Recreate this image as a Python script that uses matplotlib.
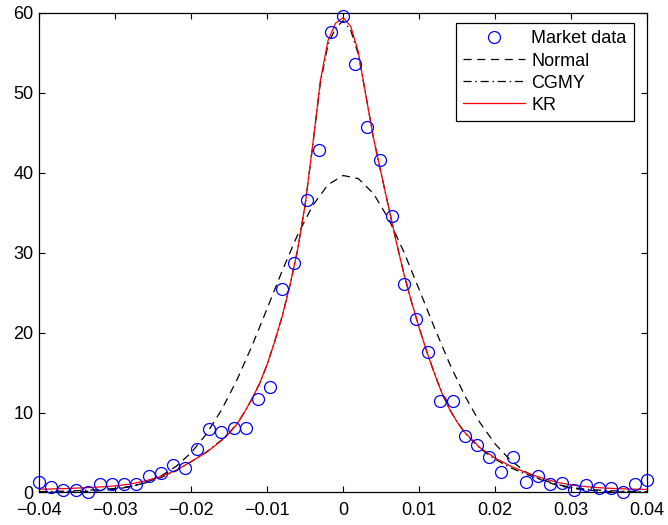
import matplotlib
matplotlib.use("Agg")
import matplotlib.pyplot as plt
from matplotlib.ticker import FixedLocator, FuncFormatter

plt.rcParams['font.family'] = ['Liberation Sans', 'DejaVu Sans']
plt.rcParams['axes.unicode_minus'] = True

# market data (histogram density)
x_market = [-0.0400, -0.0384, -0.0368, -0.0352, -0.0336, -0.0320, -0.0304, -0.0288,
            -0.0272, -0.0256, -0.0240, -0.0224, -0.0208, -0.0192, -0.0176, -0.0160,
            -0.0144, -0.0128, -0.0112, -0.0096, -0.0080, -0.0064, -0.0048, -0.0032,
            -0.0016, 0.0000, 0.0016, 0.0032, 0.0048, 0.0064, 0.0080, 0.0096,
            0.0112, 0.0128, 0.0144, 0.0160, 0.0176, 0.0192, 0.0208, 0.0224,
            0.0240, 0.0256, 0.0272, 0.0288, 0.0304, 0.0320, 0.0336, 0.0352,
            0.0368, 0.0384, 0.0400]
y_market = [1.25, 0.63, 0.33, 0.33, 0.0, 1.04, 1.04, 1.04,
            1.04, 2.08, 2.45, 3.42, 3.0, 5.42, 7.88, 7.58,
            8.08, 8.08, 11.71, 13.21, 25.4, 28.73, 36.57, 42.83,
            57.63, 59.6, 53.55, 45.74, 41.57, 34.57, 26.06, 21.68,
            17.59, 11.46, 11.46, 7.04, 5.92, 4.46, 2.5, 4.46,
            1.25, 2.04, 1.0, 1.13, 0.29, 0.91, 0.5, 0.58,
            0.0, 1.04, 1.54]

# fitted normal density
x_norm = [-0.040, -0.038, -0.036, -0.034, -0.032, -0.030, -0.028, -0.026, -0.024, -0.022,
          -0.020, -0.018, -0.016, -0.014, -0.012, -0.010, -0.008, -0.006, -0.004, -0.002,
          0.000, 0.002, 0.004, 0.006, 0.008, 0.010, 0.012, 0.014, 0.016, 0.018,
          0.020, 0.022, 0.024, 0.026, 0.028, 0.030, 0.032, 0.034, 0.036, 0.038, 0.040]
y_norm = [0.012, 0.026, 0.054, 0.11, 0.21, 0.40, 0.71, 1.23, 2.03, 3.24,
          4.95, 7.29, 10.31, 14.02, 18.31, 23.0, 27.76, 32.2, 35.9, 38.49,
          39.65, 39.26, 37.37, 34.18, 30.05, 25.39, 20.63, 16.11, 12.09, 8.72,
          6.05, 4.03, 2.58, 1.59, 0.94, 0.53, 0.29, 0.15, 0.078, 0.038, 0.018]

# CGMY and KR fits
x_fit = [-0.040, -0.036, -0.032, -0.030, -0.028, -0.026, -0.024, -0.022, -0.020, -0.018,
         -0.016, -0.015, -0.014, -0.013, -0.012, -0.011, -0.010, -0.009, -0.008, -0.007,
         -0.006, -0.005, -0.004, -0.003, -0.002, -0.001, 0.000, 0.001, 0.002, 0.003,
         0.004, 0.005, 0.006, 0.007, 0.008, 0.009, 0.010, 0.011, 0.012, 0.013,
         0.014, 0.015, 0.016, 0.018, 0.020, 0.022, 0.024, 0.026, 0.028, 0.030,
         0.032, 0.034, 0.036, 0.038, 0.040]
y_kr = [0.40, 0.50, 0.68, 0.82, 1.05, 1.45, 2.00, 2.75, 3.85, 5.00,
        6.50, 7.40, 8.50, 10.0, 11.7, 13.6, 16.0, 18.9, 22.1, 25.9,
        30.3, 36.0, 43.5, 51.5, 56.5, 58.7, 59.4, 58.3, 55.1, 49.6,
        44.3, 39.9, 35.6, 31.3, 27.3, 23.8, 20.6, 17.6, 14.9, 12.4,
        10.4, 8.8, 7.5, 5.6, 4.3, 3.3, 2.5, 1.85, 1.3, 0.95,
        0.72, 0.57, 0.48, 0.42, 0.38]
y_cgmy = [0.10, 0.18, 0.35, 0.50, 0.75, 1.20, 1.85, 2.70, 3.85, 5.05,
          6.55, 7.45, 8.55, 10.0, 11.7, 13.6, 16.0, 18.9, 22.1, 25.9,
          30.3, 36.0, 43.4, 51.2, 56.0, 58.1, 59.0, 57.8, 54.8, 49.6,
          44.3, 39.9, 35.6, 31.3, 27.3, 23.8, 20.6, 17.6, 14.9, 12.4,
          10.4, 8.8, 7.45, 5.5, 4.15, 3.1, 2.3, 1.65, 1.05, 0.62,
          0.40, 0.27, 0.18, 0.12, 0.08]

x_ticks = [-0.04, -0.03, -0.02, -0.01, 0.0, 0.01, 0.02, 0.03, 0.04]
y_ticks = [0, 10, 20, 30, 40, 50, 60]

fig = plt.figure(figsize=(6.68, 5.25), dpi=100)
ax = fig.add_axes([0.0584, 0.062, 0.9106, 0.9136])

ax.plot(x_market, y_market, 'o', mfc='none', mec='#0000ff', mew=0.9, ms=8.6,
        label='Market data', clip_on=False, zorder=4)
ax.plot(x_norm, y_norm, color='k', lw=0.9, dashes=(6.5, 4.5), label='Normal')
ax.plot(x_fit, y_cgmy, color='k', lw=0.9, dashes=(6.5, 3, 1.2, 3), label='CGMY')
ax.plot(x_fit, y_kr, color='#ff0000', lw=0.9, label='KR')

ax.set_xlim(-0.04, 0.04)
ax.set_ylim(0, 60)
ax.xaxis.set_major_locator(FixedLocator(x_ticks))
ax.yaxis.set_major_locator(FixedLocator(y_ticks))
ax.xaxis.set_major_formatter(FuncFormatter(lambda v, p: ('%g' % v).replace('-', '\u2212')))
ax.yaxis.set_major_formatter(FuncFormatter(lambda v, p: '%g' % v))
ax.tick_params(direction='in', length=4, width=0.8, top=True, right=True,
               labelsize=13, colors='k')
ax.tick_params(axis='x', pad=7)
ax.tick_params(axis='y', pad=4)
for s in ax.spines.values():
    s.set_linewidth(0.9)

leg = ax.legend(loc='upper right', bbox_to_anchor=(0.978, 0.979), borderaxespad=0,
                fontsize=13, fancybox=False, framealpha=1, edgecolor='k',
                handlelength=3.4, handletextpad=0.35, labelspacing=0.28,
                borderpad=0.42)
leg.get_frame().set_linewidth(0.9)

fig.savefig('out.png', dpi=100)
